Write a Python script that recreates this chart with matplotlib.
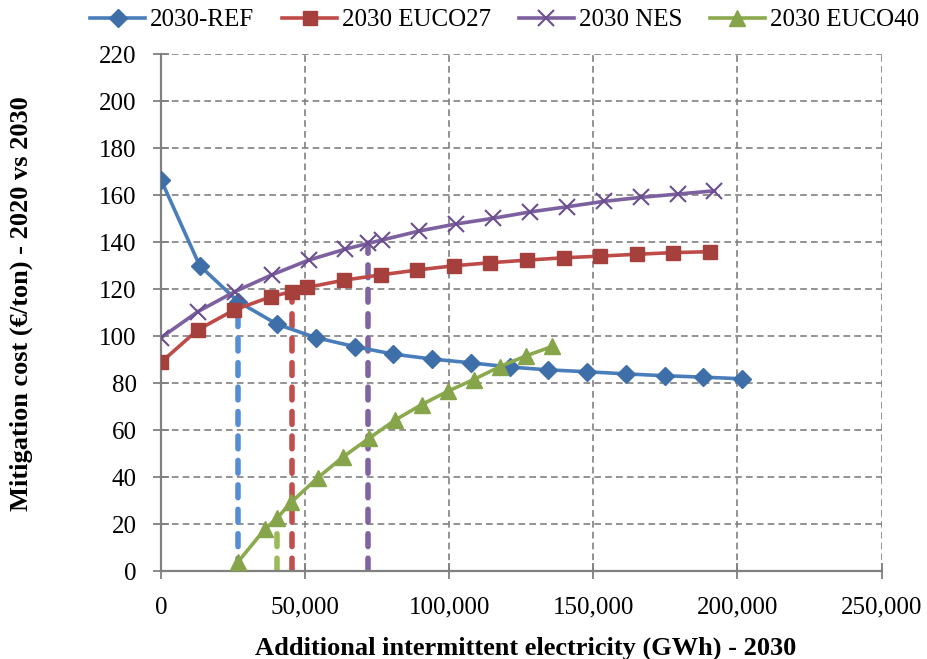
import numpy as np
import matplotlib.pyplot as plt
from matplotlib.ticker import FuncFormatter

plt.rcParams['font.family'] = ['Liberation Serif', 'DejaVu Serif']

# Data (x in GWh, y in EUR/ton)
ref_x = [0, 13400, 26800, 40300, 53800, 67200, 80600, 94100, 107500, 121000,
         134400, 147800, 161300, 174700, 188200, 201600]
ref_y = [166.5, 130, 114.6, 105, 99.3, 95.5, 92.3, 90.2, 88.6, 86.8,
         85.6, 84.8, 83.9, 83.1, 82.5, 81.8]

euco27_x = [0, 12700, 25400, 38100, 45300, 50800, 63500, 76200, 88900, 101600,
            114300, 127000, 139700, 152400, 165100, 177800, 190500]
euco27_y = [88.8, 102.6, 111.1, 116.7, 118.9, 120.7, 123.8, 126, 128.1, 129.9,
            131.2, 132.3, 133.3, 134, 134.8, 135.5, 135.9]

nes_x = [0, 12800, 25600, 38400, 51200, 64000, 71800, 76800, 89600, 102400,
         115200, 128000, 140800, 153600, 166400, 179200, 192000]
nes_y = [99.3, 110.4, 118.9, 126, 132.3, 137, 139.4, 140.9, 144.7, 147.7,
         150.1, 152.8, 155, 157.3, 159, 160.4, 161.8]

euco40_x = [26800, 36000, 40200, 45200, 54300, 63200, 72300, 81300, 90400,
            99500, 108500, 117600, 126700, 135800]
euco40_y = [4, 17.8, 22.4, 29.3, 39.6, 48.6, 56.6, 64.3, 70.8, 76.5,
            81.5, 87, 91.6, 95.6]

# dashed drop lines from each marked point down to the x axis
drop_x = [26800, 45300, 71800, 40200]
drop_y = [114.6, 118.9, 139.4, 22.4]
drop_colors = ['#558ED5', '#C0504D', '#8064A2', '#9BBB59']

fig = plt.figure(figsize=(9.28, 6.59), dpi=100)
ax = fig.add_axes([0.1735, 0.1335, 0.7765, 0.7845])

for x, y, c in zip(drop_x, drop_y, drop_colors):
    ax.plot([x, x], [0, y], color=c, lw=4, ls=(0, (2.3, 2.1)),
            dash_capstyle='round', zorder=2)

ax.plot(ref_x, ref_y, color='#4A7EBB', lw=2.6, marker='D', ms=9,
        mfc='#3F6FA8', mec='#3F6FA8', label='2030-REF', zorder=3)
ax.plot(euco27_x, euco27_y, color='#BE4B48', lw=2.6, marker='s', ms=10,
        mfc='#A5403D', mec='#A5403D', label='2030 EUCO27', zorder=3)
ax.plot(nes_x, nes_y, color='#7D60A0', lw=2.6, marker='x', ms=11, mew=1.5,
        mec='#6B4F8F', label='2030 NES', zorder=3)
ax.plot(euco40_x, euco40_y, color='#8BAA4E', lw=2.6, marker='^', ms=11,
        mfc='#86A44A', mec='#86A44A', label='2030 EUCO40', zorder=3)

ax.set_xlim(0, 250000)
ax.set_ylim(0, 220)
ax.set_xticks(np.arange(0, 250001, 50000))
ax.set_yticks(np.arange(0, 221, 20))
ax.xaxis.set_major_formatter(FuncFormatter(lambda v, p: f'{int(v):,}'))
ax.tick_params(labelsize=18, colors='#808080', labelcolor='black',
               direction='inout', length=11, width=1.3)
ax.tick_params(axis='y', pad=12)
ax.tick_params(axis='x', pad=13)
ax.grid(True, color='#808080', ls=(0, (4, 2.5)), lw=1.2, zorder=0)
for s in ['top', 'right']:
    ax.spines[s].set_visible(False)
for s in ['left', 'bottom']:
    ax.spines[s].set_color('#808080')
    ax.spines[s].set_linewidth(1.6)

ax.set_xlabel('Additional intermittent electricity (GWh) - 2030',
              fontsize=19, fontweight='bold')
ax.xaxis.set_label_coords(0.506, -0.126)
ax.set_ylabel('Mitigation cost (\u20ac/ton) - 2020 vs 2030',
              fontsize=19, fontweight='bold')
ax.yaxis.set_label_coords(-0.178, 0.517)

ax.legend(loc='center', bbox_to_anchor=(0.5437, 1 - 20 / 659),
          bbox_transform=fig.transFigure, ncol=4, frameon=False,
          fontsize=18, handlelength=2.2, handletextpad=0.2,
          columnspacing=1.1, borderaxespad=0.0, borderpad=0.0)

fig.savefig('out.png', dpi=100)
